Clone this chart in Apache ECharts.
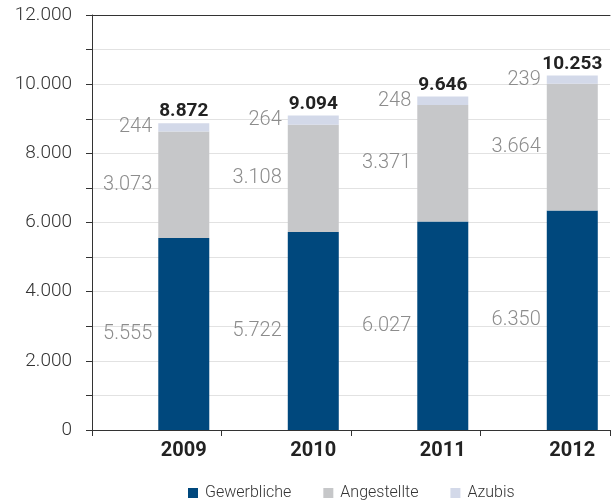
<!DOCTYPE html>
<html><head><meta charset="utf-8">
<script src="https://cdn.jsdelivr.net/npm/echarts@6/dist/echarts.min.js"></script>
<style>html,body{margin:0;padding:0;background:#fff}#c{width:611px;height:503px}</style>
</head><body><div id="c"></div>
<script>
const years = ['2009', '2010', '2011', '2012'];
const gewerbliche = [5555, 5722, 6027, 6350];
const angestellte = [3073, 3108, 3371, 3664];
const azubis = [244, 264, 248, 239];
const totals = years.map((_, i) => gewerbliche[i] + angestellte[i] + azubis[i]);

function fmt(v) { return String(v).replace(/\B(?=(\d{3})+(?!\d))/g, '.'); }

const FONT = 'Roboto';
const segLabel = {
  show: true, position: 'left', distance: 6,
  color: '#8c8c8c', fontSize: 20, fontFamily: FONT, fontWeight: 300,
  formatter: p => fmt(p.value)
};
const BW = 51;
const GAP = '6%';
const chart = echarts.init(document.getElementById('c'));
chart.setOption({
  animation: false,
  grid: { left: 92, right: 1, top: 15, bottom: 73, containLabel: false },
  legend: {
    top: 480, left: 183, itemWidth: 10, itemHeight: 10, itemGap: 32,
    icon: 'rect',
    textStyle: { color: '#333', fontSize: 16, fontFamily: FONT, fontWeight: 300, padding: [0, 0, 0, 2] },
    data: ['Gewerbliche', 'Angestellte', 'Azubis']
  },
  xAxis: [{
    type: 'category', data: years,
    axisLine: { lineStyle: { color: '#333', width: 1 } },
    axisTick: { show: true, length: 6, lineStyle: { color: '#333' } },
    axisLabel: { color: '#222', fontSize: 20, fontWeight: 'bold', fontFamily: FONT, margin: 11, padding: [0, 0, 0, 54] }
  }, {
    type: 'category', data: years, position: 'top',
    axisLine: { show: true, lineStyle: { color: '#333', width: 1 } },
    axisTick: { show: false }, axisLabel: { show: false }
  }],
  yAxis: {
    type: 'value', min: 0, max: 12000, interval: 1000,
    axisLine: { show: true, lineStyle: { color: '#333' } },
    axisTick: { show: true, length: 6, lineStyle: { color: '#333' } },
    splitLine: { lineStyle: { color: '#e2e2e2', width: 1 } },
    axisLabel: {
      color: '#333', fontSize: 19, fontFamily: FONT, fontWeight: 300, margin: 20,
      formatter: v => (v % 2000 === 0 ? fmt(v) : '')
    }
  },
  series: [
    { name: '_pad', type: 'bar', data: years.map(() => 0), barWidth: BW, barGap: GAP, silent: true, itemStyle: { color: 'rgba(0,0,0,0)' } },
    { name: 'Gewerbliche', type: 'bar', stack: 's', data: gewerbliche, barWidth: BW, barGap: GAP, itemStyle: { color: '#00487d' }, label: segLabel },
    { name: 'Angestellte', type: 'bar', stack: 's', data: angestellte, barWidth: BW, barGap: GAP, itemStyle: { color: '#c6c7c9' }, label: segLabel },
    { name: 'Azubis', type: 'bar', stack: 's', data: azubis, barWidth: BW, barGap: GAP, itemStyle: { color: '#d3d9e9' }, label: segLabel },
    { name: 'Gesamt', type: 'bar', stack: 's', data: years.map(() => 0), barWidth: BW, barGap: GAP, silent: true,
      itemStyle: { color: 'rgba(0,0,0,0)' },
      label: { show: true, position: 'top', distance: 2, color: '#222', fontSize: 19, fontWeight: 'bold', fontFamily: FONT,
        formatter: p => fmt(totals[p.dataIndex]) } }
  ]
});
</script></body></html>
